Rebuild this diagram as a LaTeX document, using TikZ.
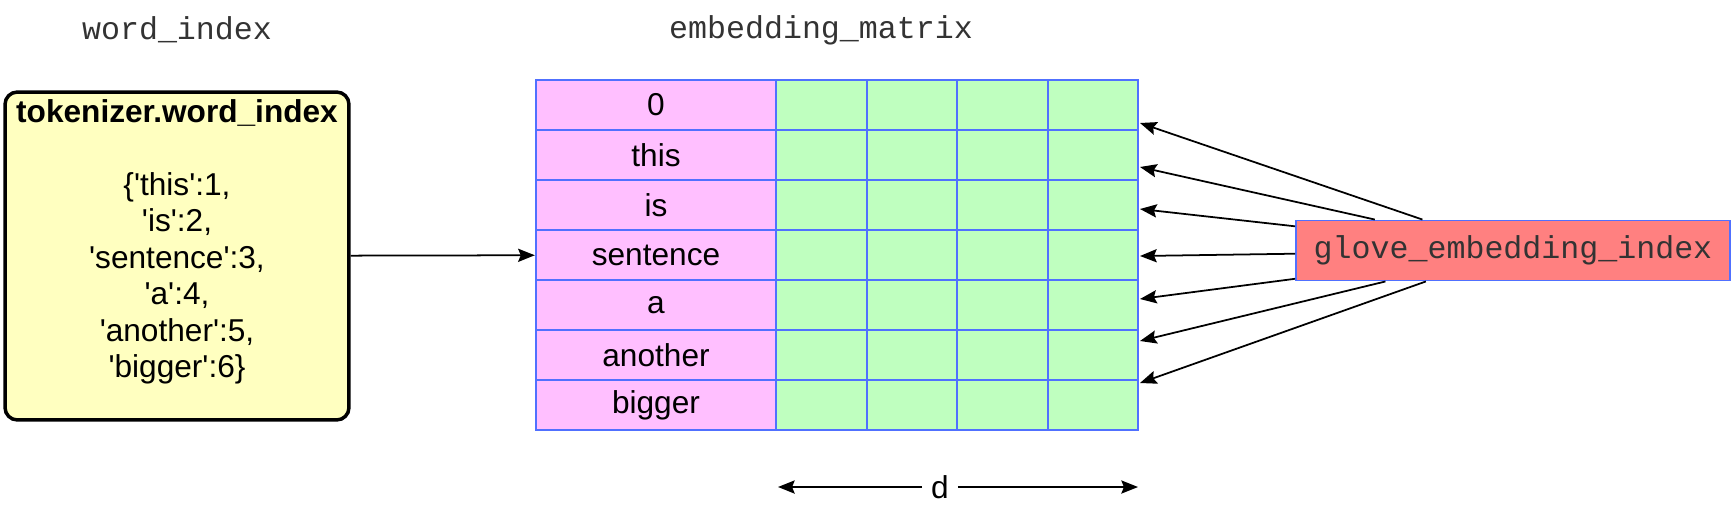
\documentclass[tikz,border=0pt]{standalone}
\usepackage{fontspec}
\setmainfont{Liberation Sans}
\newfontfamily\codefont{Liberation Mono}
\usetikzlibrary{arrows.meta}
\definecolor{cellblue}{HTML}{5070FF}
\definecolor{wordpink}{HTML}{FFBFFF}
\definecolor{vecgreen}{HTML}{BFFFBF}
\definecolor{dictyellow}{HTML}{FFFFC0}
\definecolor{gloveRed}{HTML}{FF8080}
\definecolor{codegray}{HTML}{333333}
\newcommand{\tick}{\textquotesingle}

\begin{document}
\begin{tikzpicture}[x=0.02cm, y=-0.02cm,
        heading/.style={font=\codefont\fontsize{18}{22}\selectfont, text=codegray},
        dictbox/.style={rectangle, rounded corners=7pt, draw=black, fill=dictyellow, line width=2pt, minimum width=6.88cm, minimum height=6.56cm, align=center, font=\fontsize{18}{20.8}\selectfont},
        wordcell/.style={rectangle, draw=cellblue, fill=wordpink, line width=1.1pt, minimum width=4.81cm, minimum height=1cm, inner sep=0pt, font=\fontsize{18}{20.8}\selectfont},
        vecell/.style={rectangle, draw=cellblue, fill=vecgreen, line width=1.1pt, minimum width=1.808cm, minimum height=1cm, inner sep=0pt},
        indexbox/.style={rectangle, draw=cellblue, fill=gloveRed, line width=1.1pt, minimum width=8.68cm, minimum height=1.2cm, font=\codefont\fontsize{18}{22}\selectfont, text=codegray},
        link/.style={-{Stealth[length=9.5pt, width=7.5pt, inset=1.5pt]}, line width=1pt, black}
    ]
    \useasboundingbox (0,0) rectangle (1732,518);

    \node[heading] (dicttitle) at (177,30) {word\_index};
    \node[heading] (mattitle) at (821,30) {embedding\_matrix};

    \node[dictbox] (dict) at (177,256) {\textbf{tokenizer.word\_index}\\ \mbox{}\\
        \{\tick this\tick:1,\\ \tick is\tick:2,\\ \tick sentence\tick:3,\\ \tick a\tick:4,\\
        \tick another\tick:5,\\ \tick bigger\tick:6\}\\[-1pt] \mbox{}};

    % embedding matrix
    \node[wordcell] (w0) at (656,105) {0};
    \node[wordcell] (w1) at (656,155) {this};
    \node[wordcell] (w2) at (656,205) {is};
    \node[wordcell] (w3) at (656,255) {sentence};
    \node[wordcell] (w4) at (656,305) {a};
    \node[wordcell] (w5) at (656,355) {another};
    \node[wordcell] (w6) at (656,405) {bigger};
    \foreach \r in {0,...,6}
        \foreach \c in {0,...,3}
            \node[vecell] (v\r\c) at ({821.7+90.4*\c}, {105+50*\r}) {};

    \node[indexbox] (glove) at (1513,250.5) {glove\_embedding\_index};

    \draw[link] (dict) -- (w3);

    \coordinate (t1) at (1140,123);
    \coordinate (t2) at (1140,167);
    \coordinate (t3) at (1140,209);
    \coordinate (t4) at (1140,256);
    \coordinate (t5) at (1140,299);
    \coordinate (t6) at (1140,341);
    \coordinate (t7) at (1140,383);
    \draw[link] (glove) -- (t1);
    \draw[link] (glove) -- (t2);
    \draw[link] (glove) -- (t3);
    \draw[link] (glove) -- (t4);
    \draw[link] (glove) -- (t5);
    \draw[link] (glove) -- (t6);
    \draw[link] (glove) -- (t7);

    % width of the vectors
    \node[inner sep=5pt, font=\fontsize{18}{20.8}\selectfont] (d) at (940,487) {d};
    \coordinate (dl) at (778,487);
    \coordinate (dr) at (1138,487);
    \draw[link] (d) -- (dl);
    \draw[link] (d) -- (dr);
\end{tikzpicture}
\end{document}
